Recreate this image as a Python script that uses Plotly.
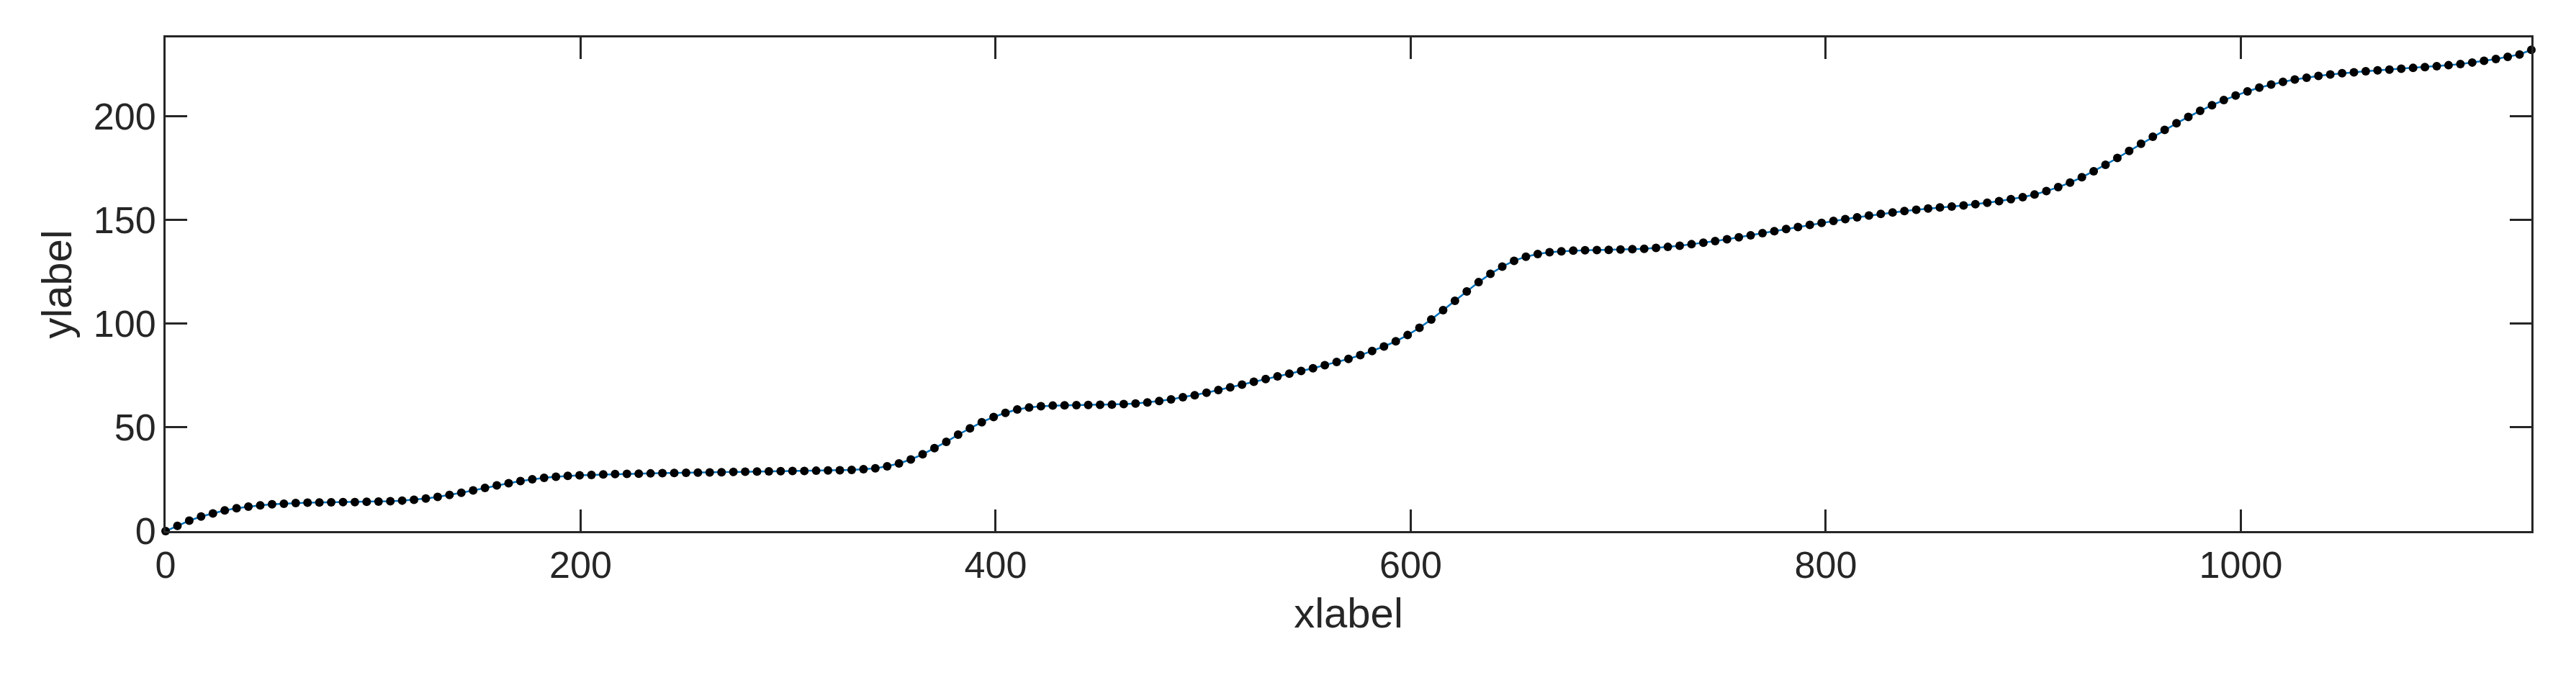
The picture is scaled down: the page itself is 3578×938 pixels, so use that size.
import numpy as np
import plotly.graph_objects as go

step = 5.7
y_vals = [
    0, 2.5, 5, 7, 8.5, 10, 11, 11.8, 12.4, 12.9,
    13.2, 13.5, 13.7, 13.8, 13.9, 14, 14, 14.1, 14.2, 14.4,
    14.7, 15.1, 15.7, 16.5, 17.4, 18.5, 19.6, 20.8, 22, 23.1,
    24.1, 25, 25.7, 26.2, 26.6, 26.9, 27.1, 27.3, 27.5, 27.6,
    27.7, 27.8, 27.9, 28, 28.1, 28.2, 28.3, 28.4, 28.5, 28.6,
    28.7, 28.8, 28.9, 29, 29, 29.1, 29.2, 29.3, 29.5, 29.8,
    30.3, 31.2, 32.6, 34.5, 37, 40, 43, 46.5, 49.5, 52.5,
    55, 57, 58.6, 59.6, 60.2, 60.5, 60.6, 60.7, 60.8, 60.9,
    61, 61.2, 61.5, 62, 62.7, 63.5, 64.5, 65.5, 66.7, 68,
    69.3, 70.6, 72, 73.3, 74.6, 75.9, 77.2, 78.5, 80, 81.5,
    83, 84.8, 86.8, 89, 91.5, 94.5, 98, 102, 106.5, 111,
    115.5, 120, 124, 127.5, 130.3, 132.3, 133.6, 134.4, 134.9, 135.2,
    135.4, 135.5, 135.6, 135.7, 135.9, 136.1, 136.5, 137, 137.6, 138.3,
    139, 139.8, 140.7, 141.6, 142.6, 143.6, 144.6, 145.6, 146.6, 147.6,
    148.6, 149.5, 150.4, 151.3, 152.1, 152.9, 153.6, 154.3, 154.9, 155.5,
    156, 156.5, 157, 157.6, 158.3, 159.1, 160, 161, 162.3, 163.9,
    165.8, 168, 170.6, 173.5, 176.6, 179.9, 183.3, 186.7, 190.1, 193.4,
    196.6, 199.7, 202.6, 205.3, 207.8, 210, 212, 213.8, 215.3, 216.6,
    217.7, 218.6, 219.4, 220.1, 220.7, 221.2, 221.7, 222.1, 222.5, 222.9,
    223.3, 223.7, 224.1, 224.6, 225.2, 225.9, 226.7, 227.6, 228.6, 229.8,
    232,
]
x_vals = [round(i * step, 2) for i in range(len(y_vals))]
x_ticks = [0, 200, 400, 600, 800, 1000]
y_ticks = [0, 50, 100, 150, 200]

fig = go.Figure(go.Scatter(
    x=x_vals, y=y_vals, mode="lines+markers",
    line=dict(color="#0072BD", width=2.5),
    marker=dict(color="black", size=12),
    cliponaxis=False,
))
ax = dict(showline=True, mirror="ticks", linecolor="#262626", linewidth=3,
          ticks="inside", ticklen=30, tickwidth=3, tickcolor="#262626",
          showgrid=False, zeroline=False,
          tickfont=dict(family="Liberation Sans, Arial", size=52, color="#262626"),
          title_font=dict(family="Liberation Sans, Arial", size=58, color="#262626"))
fig.update_xaxes(**ax, range=[0, 1140], tickvals=x_ticks, title_text="xlabel", title_standoff=18)
fig.update_yaxes(**ax, range=[0, 238], tickvals=y_ticks, title_text="ylabel", title_standoff=12)
fig.update_layout(width=3578, height=938, plot_bgcolor="white", paper_bgcolor="white",
                  margin=dict(l=222, r=70, t=44, b=208), showlegend=False)
fig.write_html("out.html")
